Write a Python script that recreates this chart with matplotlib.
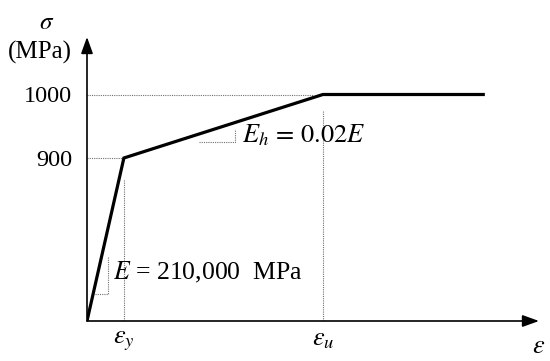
import matplotlib
matplotlib.use("Agg")
import matplotlib.pyplot as plt
import numpy as np

plt.rcParams['font.family'] = ['Liberation Serif', 'DejaVu Serif']
plt.rcParams['mathtext.fontset'] = 'stix'

# stress-strain curve (bilinear with plateau)
strain = [0.0, 0.0043, 0.0275, 0.0462]
stress = [0.0, 900.0, 1000.0, 1000.0]
eps_y, eps_u = strain[1], strain[2]
fy, fu = stress[1], stress[2]

ytick_vals = [900, 1000]
ytick_labels = ['900', '1000']
xtick_labels = [r'$\varepsilon_y$', r'$\varepsilon_u$']

# the stress axis is not to scale: 0-900 is squeezed relative to 900-1000
brk_s = [0.0, 900.0, 1000.0, 5000.0]
brk_p = [0.0, 163.0, 226.5, 226.5 + 4000 * 0.635]


def fwd(s):
    return np.interp(s, brk_s, brk_p)


def inv(p):
    return np.interp(p, brk_p, brk_s)


fig = plt.figure(figsize=(5.5, 3.61), dpi=100)
ax = fig.add_axes([87 / 550, 40 / 361, 452 / 550, 284 / 361])
ax.set_yscale('function', functions=(fwd, inv))
ax.set_xlim(0, 0.0527)
ax.set_ylim(0, float(inv(284)))

for s in ax.spines.values():
    s.set_visible(False)

# axes with arrow heads
arr = dict(arrowstyle='-|>,head_length=1.0,head_width=0.36', color='k',
           lw=1.2, mutation_scale=10, shrinkA=0, shrinkB=0)
ax.annotate('', xy=(1, 0), xytext=(0, 0), xycoords='axes fraction', arrowprops=arr)
ax.annotate('', xy=(0, 1), xytext=(0, 0), xycoords='axes fraction', arrowprops=arr)

# dotted guide lines
dot = dict(color='#707070', lw=0.8, linestyle=(0, (1, 1)))
ax.plot([0, eps_u - 0.0012], [fu, fu], **dot)
ax.plot([0, eps_y], [fy, fy], **dot)
ax.plot([eps_y, eps_y], [0, 785], **dot)
ax.plot([eps_u, eps_u], [0, 975], **dot)

# slope markers
ax.plot([0.00093, 0.00245, 0.00245], [149, 149, 353], **dot)
ax.plot([0.01306, 0.01726, 0.01726], [924.7, 924.7, 945.2], **dot)

ax.plot(strain, stress, color='k', lw=2.3, solid_joinstyle='miter')

ax.set_yticks(ytick_vals)
ax.set_yticklabels(ytick_labels)
ax.set_xticks([eps_y, eps_u])
ax.set_xticklabels(xtick_labels)
ax.tick_params(axis='y', length=0, pad=10.5, labelsize=17.5)
ax.tick_params(axis='x', length=0, pad=6, labelsize=19)

ax.text(0.0030, 270, r'$E$ = 210,000  MPa', fontsize=18.5, va='center', ha='left')
ax.text(0.0181, 936, r'$E_h\/=\/0.02E$', fontsize=19, va='center', ha='left')
ax.text(1.0, -0.09, r'$\varepsilon$', transform=ax.transAxes, fontsize=19,
        ha='center', va='center')
ax.text(-0.089, 1.05, r'$\sigma$', transform=ax.transAxes, fontsize=18,
        ha='center', va='center')
ax.text(-0.104, 0.947, '(MPa)', transform=ax.transAxes, fontsize=18,
        ha='center', va='center')

fig.savefig('out.png', dpi=100)
